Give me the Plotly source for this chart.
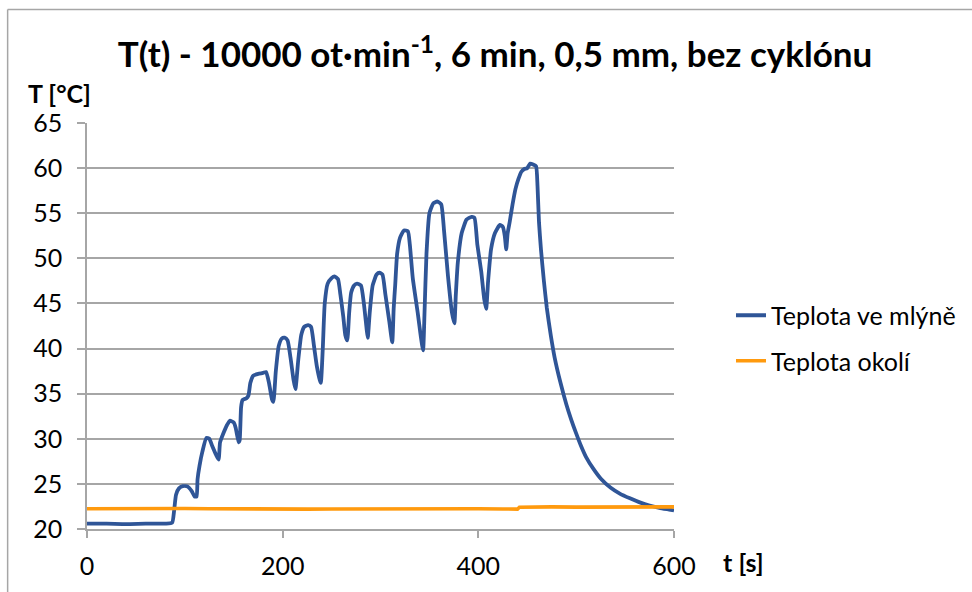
import plotly.graph_objects as go

# --- data ---
mill_t = [0, 20, 40, 60, 80, 87, 89, 91, 94, 98, 103, 107, 110, 112, 113, 115, 118, 122, 125, 128,
          132, 134.5, 136, 139, 143, 146, 150, 152, 155, 156, 157.5, 159, 163, 165, 167, 170, 175, 180,
          183, 186, 189, 190.5, 193, 196, 199, 202, 205, 208, 211, 213, 216, 219, 222, 226, 229, 232,
          235, 238, 239, 241, 243, 246, 250, 253, 256.5, 259, 262, 264, 266, 268, 270, 273, 276, 280,
          283, 286, 287, 289, 292, 296, 299, 302, 305, 309, 312, 313.5, 315, 317, 320, 324, 328, 330,
          333, 338, 341, 343.5, 345, 347, 350, 354, 358, 362, 365, 369, 373, 375.5, 377, 379, 383, 388,
          393, 396, 399, 403, 406, 408, 410, 413, 417, 422, 425, 427, 428.5, 430, 432, 435, 438, 441,
          444, 447, 450, 453, 456, 459, 460.5, 462, 464, 467, 470, 474, 478, 484, 490, 495, 500, 505,
          510, 518, 525, 535, 545, 555, 565, 575, 585, 595, 600]
mill_T = [20.6, 20.6, 20.55, 20.6, 20.6, 20.7, 22.0, 23.8, 24.5, 24.75, 24.7, 24.2, 23.6, 23.6, 25.5,
          27.0, 28.6, 30.1, 30.0, 29.2, 28.2, 27.7, 29.6, 30.5, 31.5, 32.0, 31.8, 31.2, 29.6, 29.8, 33.5,
          34.3, 34.5, 34.8, 36.2, 37.0, 37.2, 37.3, 37.4, 36.2, 34.4, 34.1, 37.5, 40.3, 41.1, 41.2, 40.9,
          39.0, 36.6, 35.5, 38.8, 41.5, 42.4, 42.6, 42.4, 40.3, 38.0, 36.5, 36.2, 40.0, 45.0, 47.2, 47.8,
          48.0, 47.7, 46.0, 43.5, 41.5, 40.9, 44.0, 46.2, 47.0, 47.2, 47.0, 45.0, 42.0, 41.2, 44.0, 47.0,
          48.2, 48.4, 48.2, 46.0, 43.0, 40.7, 44.5, 47.0, 50.5, 52.3, 53.1, 53.0, 51.5, 47.8, 44.0, 41.5,
          39.8, 44.0, 50.5, 55.0, 56.1, 56.3, 56.0, 53.0, 48.0, 44.0, 42.8, 46.0, 49.5, 52.8, 54.3, 54.6,
          54.5, 51.5, 48.5, 45.5, 44.4, 47.5, 51.0, 52.8, 53.7, 53.5, 52.5, 51.0, 52.8, 54.0, 56.0, 57.7,
          58.8, 59.6, 59.9, 60.0, 60.5, 60.4, 60.2, 58.0, 54.0, 51.0, 47.5, 44.5, 41.5, 39.0, 36.2, 33.8,
          32.1, 30.6, 29.2, 28.0, 26.6, 25.6, 24.6, 23.9, 23.4, 22.95, 22.6, 22.35, 22.15, 22.05]

amb_t = [0, 25, 50, 75, 100, 125, 150, 175, 200, 225, 250, 275, 300, 325, 350, 375, 400, 425, 435,
         440, 442, 450, 475, 500, 525, 550, 575, 600]
amb_T = [22.25, 22.28, 22.3, 22.27, 22.28, 22.25, 22.22, 22.25, 22.23, 22.2, 22.22, 22.24, 22.25, 22.23,
         22.25, 22.24, 22.25, 22.22, 22.18, 22.2, 22.42, 22.45, 22.45, 22.43, 22.44, 22.42, 22.45, 22.45]

x_ticks = [0, 200, 400, 600]
y_ticks = [20, 25, 30, 35, 40, 45, 50, 55, 60, 65]

series_names = ["Teplota ve mlýně", "Teplota okolí"]
title_text = "T(t) - 10000 ot·min<sup>-1</sup>, 6 min, 0,5 mm, bez cyklónu"

FONT = "Lato"
GRID = "#A6A6A6"

fig = go.Figure()
fig.add_trace(go.Scatter(x=mill_t, y=mill_T, mode="lines", name=series_names[0],
                         legendgroup="a",
                         line=dict(color="#2F5597", width=3.8, shape="spline", smoothing=0.5)))
fig.add_trace(go.Scatter(x=amb_t, y=amb_T, mode="lines", name=series_names[1],
                         legendgroup="b", line=dict(color="#FF9A0E", width=3.6)))

L, R, T, B = 87, 297, 123, 63
W, H = 972, 592
pw, ph = W - L - R, H - T - B

def px(xp):
    return (xp - L) / pw

def py(yp):
    return (H - B - yp) / ph

fig.update_layout(
    width=W, height=H,
    margin=dict(l=L, r=R, t=T, b=B),
    paper_bgcolor="white", plot_bgcolor="white",
    font=dict(family=FONT, size=25, color="#000000"),
    title=dict(text="<b>" + title_text + "</b>", x=495 / W, xanchor="center",
               y=1 - 55 / H, yanchor="middle", xref="container", yref="container",
               font=dict(family=FONT, size=35, color="#000000")),
    showlegend=True,
    legend=dict(x=px(731), xanchor="left", y=py(338), yanchor="middle",
                traceorder="grouped", tracegroupgap=10,
                font=dict(family=FONT, size=25, color="#000000"),
                bgcolor="rgba(0,0,0,0)"),
    xaxis=dict(range=[0, 600], tickvals=x_ticks, ticktext=[str(v) for v in x_ticks],
               showgrid=False, zeroline=False, showline=True, linecolor=GRID, linewidth=1.5,
               ticks="outside", ticklen=7, tickcolor=GRID, tickwidth=1.5,
               ticklabelstandoff=7, tickfont=dict(family=FONT, size=25)),
    yaxis=dict(range=[20, 65], tickvals=y_ticks, ticktext=[str(v) for v in y_ticks],
               showgrid=True, gridcolor=GRID, gridwidth=1.5, zeroline=False,
               showline=True, linecolor=GRID, linewidth=1.5,
               ticks="outside", ticklen=8, tickcolor=GRID, tickwidth=1.5,
               ticklabelstandoff=10, tickfont=dict(family=FONT, size=25)),
    annotations=[
        dict(text="<b>T [°C]</b>", xref="paper", yref="paper", x=px(26), y=py(93),
             xanchor="left", yanchor="middle", showarrow=False,
             font=dict(family=FONT, size=25)),
        dict(text="<b>t [s]</b>", xref="paper", yref="paper", x=px(722), y=py(562),
             xanchor="left", yanchor="middle", showarrow=False,
             font=dict(family=FONT, size=25)),
    ],
    shapes=[
        dict(type="line", xref="paper", yref="paper", x0=px(7.5), x1=px(7.5), y0=py(9.5), y1=py(600),
             line=dict(color="#A6A6A6", width=1.5)),
        dict(type="line", xref="paper", yref="paper", x0=px(7.5), x1=px(980), y0=py(9.5), y1=py(9.5),
             line=dict(color="#A6A6A6", width=1.5)),
    ],
)

fig.write_html("out.html", config={"displayModeBar": False},
               post_script="document.body.style.margin='0';document.body.style.overflow='hidden';")
